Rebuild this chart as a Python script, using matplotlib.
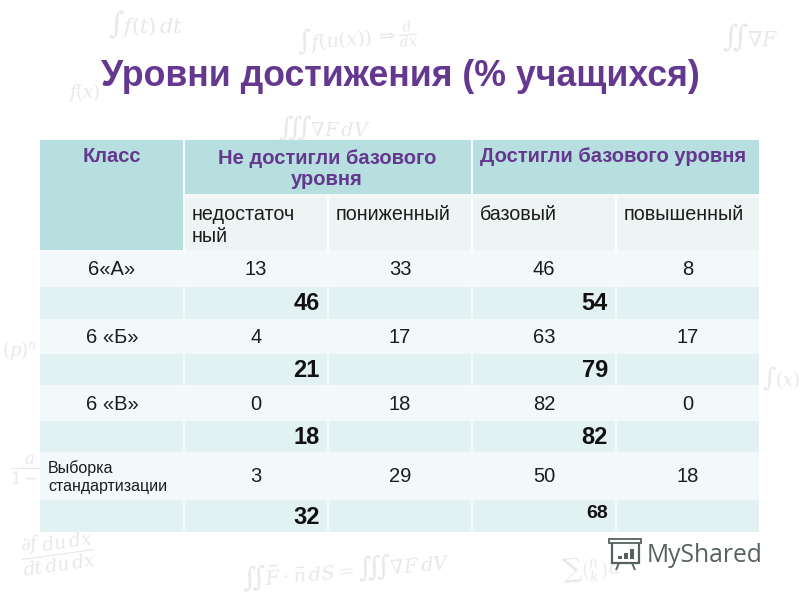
import matplotlib
matplotlib.use("Agg")
import matplotlib.pyplot as plt
from matplotlib.patches import Rectangle, Polygon

plt.rcParams["font.family"] = ["Liberation Sans", "DejaVu Sans"]
plt.rcParams["mathtext.fontset"] = "dejavuserif"

# ---------- data ----------
title = "Уровни достижения (% учащихся)"
class_header = "Класс"
group_headers = ["Не достигли базового\nуровня", "Достигли базового уровня"]
level_headers = ["недостаточ\nный", "пониженный", "базовый", "повышенный"]
classes = ["6«А»", "6 «Б»", "6 «В»", "Выборка\nстандартизации"]
nedostat = [13, 4, 0, 3]
ponizh = [33, 17, 18, 29]
bazov = [46, 63, 82, 50]
povysh = [8, 17, 0, 18]
not_reached = [46, 21, 18, 32]
reached = [54, 79, 82, 68]
watermarks = [
    (r"$\int f(t)\,dt$", 108, 25, 15, 0),
    (r"$\int f(u(x))\,\Rightarrow \frac{d}{dx}$", 295, 38, 14, 5),
    (r"$\iint \nabla F$", 722, 38, 15, 0),
    (r"$f(x)$", 68, 92, 13, 0),
    (r"$\iiint \nabla F\,dV$", 278, 128, 14, 0),
    (r"$\frac{a}{1-r}$", 10, 470, 17, 0),
    (r"$\frac{\partial f}{dt}\frac{du}{du}\frac{dx}{dx}$", 18, 552, 19, 8),
    (r"$\iint \vec{F}\cdot\vec{n}\,dS = \iiint \nabla F\,dV$", 240, 570, 14, 5),
    (r"$\sum\binom{n}{k}a$", 560, 570, 14, 5),
    (r"$(p)^n$", 2, 350, 13, 0),
    (r"$\int(x)$", 762, 378, 13, 0),
]

# ---------- layout (pixels) ----------
col_edges = [(40, 183), (185, 327), (329, 471), (473, 615), (617, 759)]
row_edges = [(252, 285), (287, 319), (321, 352), (354, 385),
             (387, 419), (421, 452), (454, 498), (500, 532)]
HEAD = "#b7dfdf"
SUB = "#edf4f4"
LIGHT = "#f1f9fb"
DARK = "#e2f1f1"
GAP = "#f3f9f9"
PURPLE = "#65388f"
TXT = "#1c1c1c"

fig = plt.figure(figsize=(8, 6), dpi=100)
ax = fig.add_axes([0, 0, 1, 1])
ax.set_xlim(0, 800)
ax.set_ylim(600, 0)
ax.axis("off")


def box(x0, y0, x1, y1, color):
    ax.add_patch(Rectangle((x0, y0), x1 - x0, y1 - y0, fc=color, ec="none", zorder=2))


for s, x, y, fs, rot in watermarks:
    ax.text(x, y, s, fontsize=fs, color="#e8e8e8", rotation=rot,
            va="center", zorder=1)

ax.text(400, 77, title, fontsize=25.7, fontweight="bold", color=PURPLE,
        ha="center", va="center", zorder=3)

# header
box(40, 140, 759, 198, GAP)
box(40, 250, 759, 532, GAP)
box(40, 140, 183, 250, HEAD)
box(185, 140, 471, 194, HEAD)
box(473, 140, 759, 194, HEAD)
ax.text(112, 157, class_header, fontsize=14.5, fontweight="bold", color=PURPLE,
        ha="center", va="center", zorder=3)
ax.text(327, 169, group_headers[0], fontsize=14.5, fontweight="bold", color=PURPLE,
        ha="center", va="center", linespacing=1.1, zorder=3)
ax.text(613, 157, group_headers[1], fontsize=14.5, fontweight="bold", color=PURPLE,
        ha="center", va="center", zorder=3)

for i, lab in enumerate(level_headers):
    x0, x1 = col_edges[i + 1]
    box(x0, 198, x1, 250, SUB)
    ax.text(x0 + 7, 205, lab, fontsize=14.2, color=TXT, ha="left", va="top",
            linespacing=1.18, zorder=3)

# body rows
for r in range(len(classes)):
    y0, y1 = row_edges[2 * r]
    ym = (y0 + y1) / 2 + 1
    for x0, x1 in col_edges:
        box(x0, y0, x1, y1, LIGHT)
    vals = [nedostat[r], ponizh[r], bazov[r], povysh[r]]
    for c, v in enumerate(vals):
        x0, x1 = col_edges[c + 1]
        ax.text((x0 + x1) / 2, ym, str(v), fontsize=14.5, color=TXT,
                ha="center", va="center", zorder=3)
    if r < 3:
        ax.text(112, ym, classes[r], fontsize=14.5, color=TXT,
                ha="center", va="center", zorder=3)
    else:
        ax.text(48, ym, classes[r], fontsize=11.5, color=TXT, ha="left",
                va="center", linespacing=1.25, zorder=3)

    y0, y1 = row_edges[2 * r + 1]
    ym = (y0 + y1) / 2 + 1
    for x0, x1 in col_edges:
        box(x0, y0, x1, y1, DARK)
    ax.text(320, ym, str(not_reached[r]), fontsize=17, fontweight="bold",
            color="#111111", ha="right", va="center", zorder=3)
    small = r == 3
    ax.text(608, ym - (4 if small else 0), str(reached[r]),
            fontsize=14 if small else 17, fontweight="bold",
            color="#111111", ha="right", va="center", zorder=3)

# logo
LOGO = "#55625f"
ax.add_patch(Rectangle((612, 541), 27, 22, fc="white", ec=LOGO, lw=1.6, zorder=3))
ax.add_patch(Rectangle((609, 539), 32, 3.5, fc="white", ec=LOGO, lw=1.3, zorder=3))
ax.add_patch(Polygon([(618, 563), (615, 570), (617, 570), (620, 563)], fc=LOGO, ec="none", zorder=3))
ax.add_patch(Polygon([(633, 563), (636, 570), (634, 570), (631, 563)], fc=LOGO, ec="none", zorder=3))
for x, h in zip([618, 624, 630], [3, 6, 10]):
    ax.add_patch(Rectangle((x, 559 - h), 3.5, h, fc=LOGO, ec="none", zorder=4))
ax.text(647, 555, "MyShared", fontsize=17.7, color=LOGO, family="Open Sans",
        ha="left", va="center", zorder=3)

fig.savefig("out.png", dpi=100)
